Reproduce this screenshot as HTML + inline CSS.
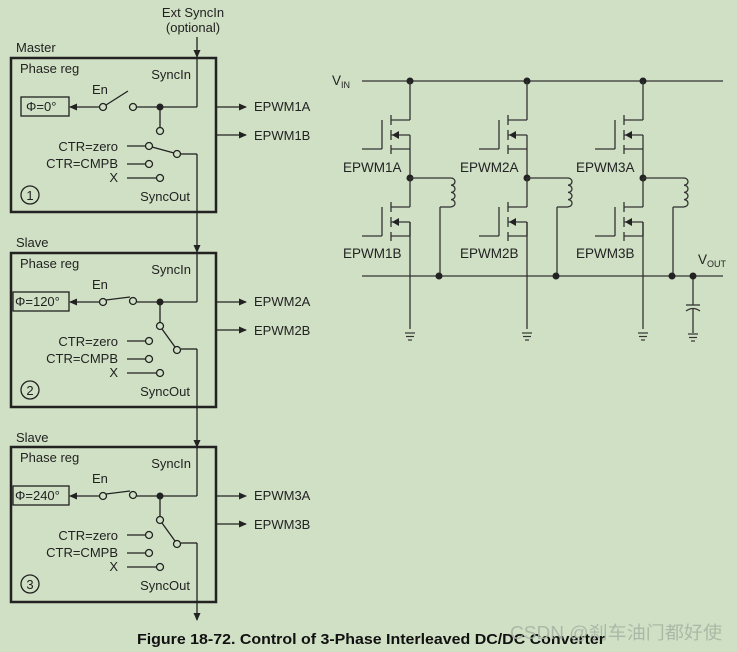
<!DOCTYPE html>
<html><head><meta charset="utf-8"><style>
html,body{margin:0;padding:0;background:#d0e0c5;}
svg{display:block;font-family:"Liberation Sans",Arial,sans-serif;}
</style></head><body>
<svg width="737" height="652" viewBox="0 0 737 652" xmlns="http://www.w3.org/2000/svg">
<defs>
<marker id="ah" markerWidth="8" markerHeight="8" refX="7" refY="4" orient="auto" markerUnits="userSpaceOnUse">
<path d="M0,0.5 L8,4 L0,7.5z" fill="#222"/></marker>
<g id="fet" stroke="#333" stroke-width="1.3" fill="none">
<line x1="0" y1="0" x2="-19" y2="0"/>
<line x1="-19" y1="-5" x2="-19" y2="5"/>
<line x1="-19" y1="10" x2="-19" y2="20"/>
<line x1="-19" y1="25" x2="-19" y2="34"/>
<line x1="-19" y1="15" x2="0" y2="15"/>
<line x1="-19" y1="29" x2="0" y2="29"/>
<path d="M-18,15 L-11,11 L-11,19z" fill="#222" stroke="none"/>
<line x1="0" y1="15" x2="0" y2="29"/>
<line x1="-28" y1="0" x2="-28" y2="29"/>
<line x1="-48" y1="29" x2="-28" y2="29"/>
</g>
<g id="gnd" stroke="#333" stroke-width="1.2">
<line x1="-5" y1="0" x2="5" y2="0"/><line x1="-4" y1="3.5" x2="4" y2="3.5"/><line x1="-2" y1="7" x2="2" y2="7"/>
</g>
<g id="ph" stroke="#333" stroke-width="1.3" fill="none">
<line x1="0" y1="0" x2="0" y2="39"/>
<use href="#fet" y="39"/>
<line x1="0" y1="68" x2="0" y2="97"/>
<circle cx="0" cy="97" r="3.5" fill="#222" stroke="none"/>
<use href="#fet" y="126"/>
<line x1="0" y1="97" x2="0" y2="126"/>
<line x1="0" y1="141" x2="0" y2="248"/>
<use href="#gnd" y="252"/>
<line x1="0" y1="97" x2="41" y2="97"/>
<path d="M41,97 a4,3.6 0 0 1 0,7.2 a4,3.6 0 0 1 0,7.2 a4,3.6 0 0 1 0,7.2 a4,3.6 0 0 1 0,7.2"/>
<line x1="41" y1="126" x2="30" y2="126"/>
<line x1="30" y1="126" x2="30" y2="195"/>
<circle cx="29" cy="195" r="3.5" fill="#222" stroke="none"/>
</g>
</defs>

<text x="193" y="17" font-size="13" text-anchor="middle" fill="#222">Ext SyncIn</text>
<text x="193" y="32" font-size="13" text-anchor="middle" fill="#222">(optional)</text>
<line x1="197" y1="37" x2="197" y2="57" stroke="#222" stroke-width="1.3" marker-end="url(#ah)"/>

<g fill="#222" font-size="13">
<text x="16" y="52">Master</text>
<text x="16" y="247">Slave</text>
<text x="16" y="442">Slave</text>
</g>

<g id="blk">
<rect x="11" y="58" width="205" height="154" fill="none" stroke="#222" stroke-width="2.5"/>
<g fill="#222" font-size="13">
<text x="20" y="73">Phase reg</text>
<text x="191" y="79" text-anchor="end">SyncIn</text>
<text x="92" y="94">En</text>
<text x="118" y="151" text-anchor="end">CTR=zero</text>
<text x="118" y="168" text-anchor="end">CTR=CMPB</text>
<text x="118" y="182" text-anchor="end">X</text>
<text x="190" y="201" text-anchor="end">SyncOut</text>
<text x="254" y="111">EPWM1A</text>
<text x="254" y="140">EPWM1B</text>
<text x="30" y="200" text-anchor="middle">1</text>
</g>
<g stroke="#222" stroke-width="1.3" fill="none">
<circle cx="30" cy="195" r="9"/>
<line x1="216" y1="107" x2="246" y2="107" marker-end="url(#ah)"/>
<line x1="216" y1="135" x2="246" y2="135" marker-end="url(#ah)"/>
<line x1="197" y1="58" x2="197" y2="107"/>
<line x1="137" y1="107" x2="197" y2="107"/>
<line x1="160" y1="107" x2="160" y2="127"/>
<line x1="99" y1="107" x2="70" y2="107" marker-end="url(#ah)"/>
<line x1="106" y1="105" x2="128" y2="91"/>
<circle cx="103" cy="107" r="3.5" fill="#d0e0c5"/>
<circle cx="133" cy="107" r="3.5" fill="#d0e0c5"/>
<circle cx="160" cy="131" r="3.5" fill="#d0e0c5"/>
<line x1="127" y1="146" x2="146" y2="146"/>
<line x1="127" y1="164" x2="146" y2="164"/>
<line x1="127" y1="178" x2="157" y2="178"/>
<line x1="152" y1="147" x2="174" y2="153"/>
<circle cx="149" cy="146" r="3.5" fill="#d0e0c5"/>
<circle cx="149" cy="164" r="3.5" fill="#d0e0c5"/>
<circle cx="160" cy="178" r="3.5" fill="#d0e0c5"/>
<circle cx="177" cy="154" r="3.5" fill="#d0e0c5"/>
<line x1="181" y1="154" x2="197" y2="154"/>
<line x1="197" y1="154" x2="197" y2="252" marker-end="url(#ah)"/>
<rect x="21" y="97" width="48" height="19" fill="none"/>
</g>
<circle cx="160" cy="107" r="3.5" fill="#222"/>
<text x="26" y="111" font-size="13" fill="#222">Φ=0°</text>
</g>

<g transform="translate(0,195)">
<rect x="11" y="58" width="205" height="154" fill="none" stroke="#222" stroke-width="2.5"/>
<g fill="#222" font-size="13">
<text x="20" y="73">Phase reg</text>
<text x="191" y="79" text-anchor="end">SyncIn</text>
<text x="92" y="94">En</text>
<text x="118" y="151" text-anchor="end">CTR=zero</text>
<text x="118" y="168" text-anchor="end">CTR=CMPB</text>
<text x="118" y="182" text-anchor="end">X</text>
<text x="190" y="201" text-anchor="end">SyncOut</text>
<text x="254" y="111">EPWM2A</text>
<text x="254" y="140">EPWM2B</text>
<text x="30" y="200" text-anchor="middle">2</text>
<text x="15" y="111">Φ=120°</text>
</g>
<g stroke="#222" stroke-width="1.3" fill="none">
<circle cx="30" cy="195" r="9"/>
<line x1="216" y1="107" x2="246" y2="107" marker-end="url(#ah)"/>
<line x1="216" y1="135" x2="246" y2="135" marker-end="url(#ah)"/>
<line x1="197" y1="58" x2="197" y2="107"/>
<line x1="137" y1="107" x2="197" y2="107"/>
<line x1="160" y1="107" x2="160" y2="127"/>
<line x1="99" y1="107" x2="70" y2="107" marker-end="url(#ah)"/>
<line x1="106" y1="105" x2="130" y2="102"/>
<circle cx="103" cy="107" r="3.5" fill="#d0e0c5"/>
<circle cx="133" cy="106" r="3.5" fill="#d0e0c5"/>
<circle cx="160" cy="131" r="3.5" fill="#d0e0c5"/>
<line x1="127" y1="146" x2="146" y2="146"/>
<line x1="127" y1="164" x2="146" y2="164"/>
<line x1="127" y1="178" x2="157" y2="178"/>
<line x1="162" y1="134" x2="175" y2="152"/>
<circle cx="149" cy="146" r="3.5" fill="#d0e0c5"/>
<circle cx="149" cy="164" r="3.5" fill="#d0e0c5"/>
<circle cx="160" cy="178" r="3.5" fill="#d0e0c5"/>
<circle cx="177" cy="155" r="3.5" fill="#d0e0c5"/>
<line x1="181" y1="154" x2="197" y2="154"/>
<line x1="197" y1="154" x2="197" y2="252" marker-end="url(#ah)"/>
<rect x="13" y="97" width="56" height="19" fill="none"/>
</g>
<circle cx="160" cy="107" r="3.5" fill="#222"/>
</g>

<g transform="translate(0,389)">
<rect x="11" y="58" width="205" height="155" fill="none" stroke="#222" stroke-width="2.5"/>
<g fill="#222" font-size="13">
<text x="20" y="73">Phase reg</text>
<text x="191" y="79" text-anchor="end">SyncIn</text>
<text x="92" y="94">En</text>
<text x="118" y="151" text-anchor="end">CTR=zero</text>
<text x="118" y="168" text-anchor="end">CTR=CMPB</text>
<text x="118" y="182" text-anchor="end">X</text>
<text x="190" y="201" text-anchor="end">SyncOut</text>
<text x="254" y="111">EPWM3A</text>
<text x="254" y="140">EPWM3B</text>
<text x="30" y="200" text-anchor="middle">3</text>
<text x="15" y="111">Φ=240°</text>
</g>
<g stroke="#222" stroke-width="1.3" fill="none">
<circle cx="30" cy="195" r="9"/>
<line x1="216" y1="107" x2="246" y2="107" marker-end="url(#ah)"/>
<line x1="216" y1="135" x2="246" y2="135" marker-end="url(#ah)"/>
<line x1="197" y1="58" x2="197" y2="107"/>
<line x1="137" y1="107" x2="197" y2="107"/>
<line x1="160" y1="107" x2="160" y2="127"/>
<line x1="99" y1="107" x2="70" y2="107" marker-end="url(#ah)"/>
<line x1="106" y1="105" x2="130" y2="102"/>
<circle cx="103" cy="107" r="3.5" fill="#d0e0c5"/>
<circle cx="133" cy="106" r="3.5" fill="#d0e0c5"/>
<circle cx="160" cy="131" r="3.5" fill="#d0e0c5"/>
<line x1="127" y1="146" x2="146" y2="146"/>
<line x1="127" y1="164" x2="146" y2="164"/>
<line x1="127" y1="178" x2="157" y2="178"/>
<line x1="162" y1="134" x2="175" y2="152"/>
<circle cx="149" cy="146" r="3.5" fill="#d0e0c5"/>
<circle cx="149" cy="164" r="3.5" fill="#d0e0c5"/>
<circle cx="160" cy="178" r="3.5" fill="#d0e0c5"/>
<circle cx="177" cy="155" r="3.5" fill="#d0e0c5"/>
<line x1="181" y1="154" x2="197" y2="154"/>
<line x1="197" y1="154" x2="197" y2="231" marker-end="url(#ah)"/>
<rect x="13" y="97" width="56" height="19" fill="none"/>
</g>
<circle cx="160" cy="107" r="3.5" fill="#222"/>
</g>

<g stroke="#333" stroke-width="1.3">
<line x1="362" y1="81" x2="723" y2="81"/>
<line x1="362" y1="276" x2="723" y2="276"/>
<line x1="693" y1="276" x2="693" y2="305"/>
<line x1="686" y1="305" x2="700" y2="305"/>
<path d="M686,311 Q693,306 700,311" fill="none"/>
<line x1="693" y1="308" x2="693" y2="333"/>
</g>
<use href="#gnd" x="693" y="334"/>
<circle cx="693" cy="276" r="3.5" fill="#222"/>
<g fill="#222">
<circle cx="410" cy="81" r="3.5"/><circle cx="527" cy="81" r="3.5"/><circle cx="643" cy="81" r="3.5"/>
</g>
<use href="#ph" x="410" y="81"/>
<use href="#ph" x="527" y="81"/>
<use href="#ph" x="643" y="81"/>

<g fill="#222" font-size="13.5">
<text x="332" y="85">V<tspan font-size="9" dy="3">IN</tspan></text>
<text x="698" y="264">V<tspan font-size="9" dy="3">OUT</tspan></text>
<text x="343" y="172">EPWM1A</text>
<text x="460" y="172">EPWM2A</text>
<text x="576" y="172">EPWM3A</text>
<text x="343" y="258">EPWM1B</text>
<text x="460" y="258">EPWM2B</text>
<text x="576" y="258">EPWM3B</text>
</g>

<text x="137" y="644" font-size="15" font-weight="bold" fill="#111" textLength="468" lengthAdjust="spacingAndGlyphs">Figure 18-72. Control of 3-Phase Interleaved DC/DC Converter</text>
<text x="510" y="639" font-size="18" fill="#a8b4a4" font-family="'Liberation Sans','Noto Sans CJK SC',sans-serif" textLength="212" lengthAdjust="spacingAndGlyphs" opacity="0.9">CSDN @刹车油门都好使</text>
</svg>
</body></html>
